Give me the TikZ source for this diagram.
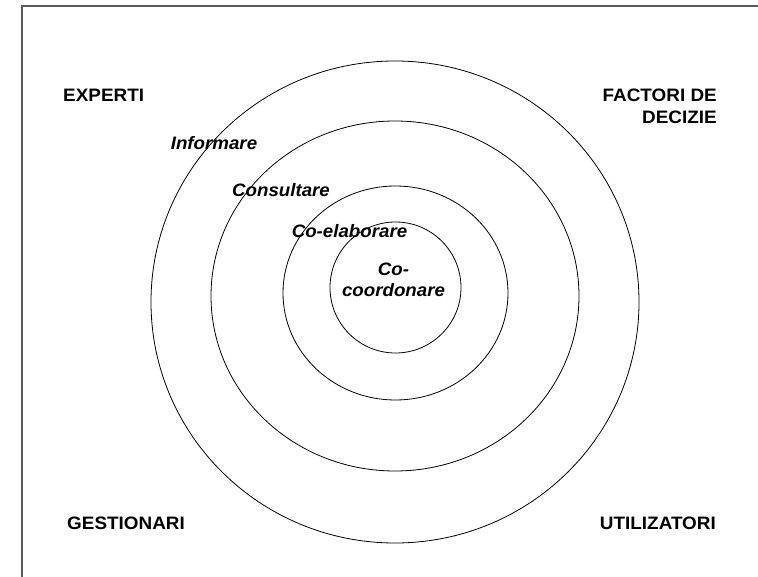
\documentclass[tikz,border=0pt]{standalone}
\usepackage{fontspec}
\setmainfont{Liberation Sans}
\begin{document}
\begin{tikzpicture}[x=1pt,y=-1pt,
  ring/.style={draw=black,line width=0.8pt},
  actor/.style={font=\fontsize{18}{22}\selectfont\bfseries,inner sep=0pt,xscale=1.05},
  level/.style={font=\fontsize{18}{21}\selectfont\bfseries\itshape,inner sep=0pt,xscale=1.04}]
\useasboundingbox (0,0) rectangle (758,577);
% frame
\draw[draw=black!65,line width=1.2pt] (22,577) -- (22,6) -- (758,6);
% rings
\draw[ring] (395,302) ellipse [x radius=244, y radius=241];
\draw[ring] (395,296) ellipse [x radius=184, y radius=175];
\draw[ring] (395.5,293) ellipse [x radius=112.5, y radius=107];
\draw[ring] (395.5,287.5) circle [radius=65.5];
% actors
\node[actor,anchor=west] (experti) at (63,95) {EXPERTI};
\node[actor,anchor=east,align=right] (factori) at (717,106) {FACTORI DE\\DECIZIE};
\node[actor,anchor=west] (gestionari) at (67,523.5) {GESTIONARI};
\node[actor,anchor=east] (utilizatori) at (716,523.5) {UTILIZATORI};
% levels
\node[level] (informare) at (214,143) {Informare};
\node[level] (consultare) at (281,190) {Consultare};
\node[level] (coelab) at (349.5,231) {Co-elaborare};
\node[level,align=center] (cocoord) at (393.5,280) {Co-\\coordonare};
\end{tikzpicture}
\end{document}
